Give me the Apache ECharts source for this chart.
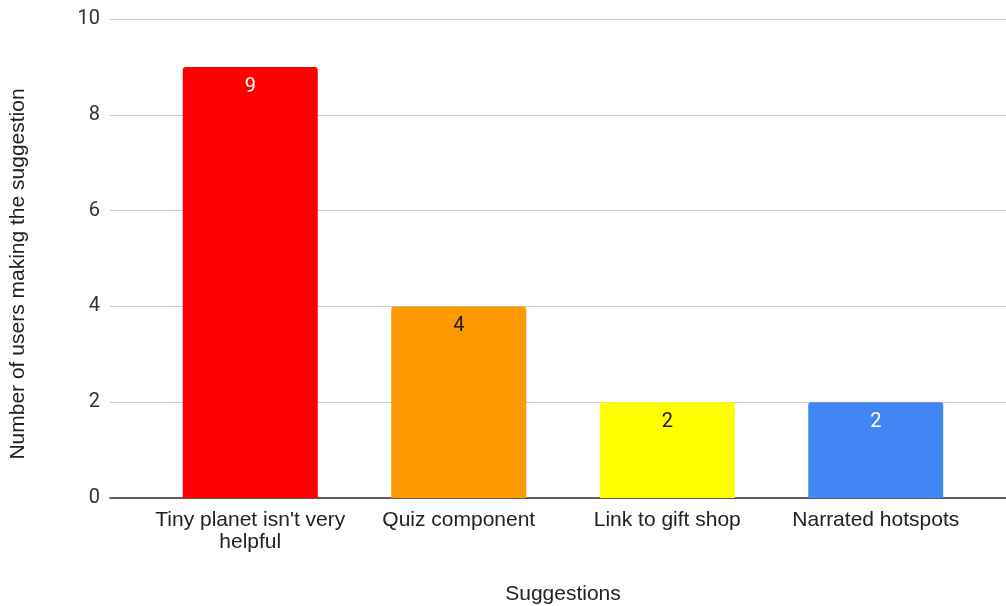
<!DOCTYPE html>
<html>
<head>
<meta charset="utf-8">
<script src="https://cdn.jsdelivr.net/npm/echarts@6/dist/echarts.min.js"></script>
<style>
  html, body { margin: 0; padding: 0; background: #fff; }
  #chart { width: 1006px; height: 606px; }
</style>
</head>
<body>
<div id="chart"></div>
<script>
// Suggestions collected from users and how many users made each one
const categories = ["Tiny planet isn't very\nhelpful", "Quiz component", "Link to gift shop", "Narrated hotspots"];
const userCounts = [9, 4, 2, 2];
const barColors = ["#ff0000", "#ff9900", "#ffff00", "#4285f4"];
const labelColors = ["#ffffff", "#1a1a1a", "#1a1a1a", "#ffffff"];
const yTicks = [0, 2, 4, 6, 8, 10];

const yMin = yTicks[0];
const yMax = yTicks[yTicks.length - 1];
const yStep = yTicks[1] - yTicks[0];

const chart = echarts.init(document.getElementById('chart'), null, { renderer: 'canvas' });

chart.setOption({
  animation: false,
  backgroundColor: '#ffffff',
  grid: [
    // full-width grid carrying the gridlines, baseline and tick labels
    { left: 110, right: 0, top: 19, bottom: 108, containLabel: false, outerBoundsMode: 'none' },
    // inset grid holding the bars
    { left: 146, right: 26, top: 19, bottom: 108, containLabel: false, outerBoundsMode: 'none' }
  ],
  xAxis: [
    {
      gridIndex: 0, type: 'category', data: [''],
      axisLine: { show: true, lineStyle: { color: '#333333', width: 1.5 } },
      axisTick: { show: false }, axisLabel: { show: false }
    },
    {
      gridIndex: 1, type: 'category', data: categories,
      axisLine: { show: false }, axisTick: { show: false },
      axisLabel: {
        interval: 0, margin: 11, color: '#222222',
        fontFamily: 'Liberation Sans, Arial, sans-serif', fontSize: 21, lineHeight: 22
      },
      name: 'Suggestions', nameLocation: 'middle', nameGap: 86,
      nameTextStyle: { color: '#222222', fontFamily: 'Liberation Sans, Arial, sans-serif', fontSize: 21 }
    }
  ],
  yAxis: [
    {
      gridIndex: 0, type: 'value', min: yMin, max: yMax, interval: yStep,
      axisLine: { show: false }, axisTick: { show: false },
      splitLine: { lineStyle: { color: '#cccccc', width: 1.2 } },
      axisLabel: { margin: 10, color: '#333333', fontFamily: 'Roboto, sans-serif', fontSize: 20 }
    },
    {
      gridIndex: 1, type: 'value', min: yMin, max: yMax, interval: yStep,
      axisLine: { show: false }, axisTick: { show: false },
      splitLine: { show: false }, axisLabel: { show: false }
    }
  ],
  graphic: [
    {
      type: 'text', x: 18, y: 274, rotation: Math.PI / 2,
      style: {
        text: 'Number of users making the suggestion',
        fill: '#222222', font: '21px "Liberation Sans", Arial, sans-serif',
        textAlign: 'center', textVerticalAlign: 'middle'
      }
    }
  ],
  series: [
    {
      type: 'bar', xAxisIndex: 1, yAxisIndex: 1,
      barWidth: 135,
      data: userCounts.map((v, i) => ({
        value: v,
        itemStyle: { color: barColors[i], borderRadius: [3, 3, 0, 0] },
        label: { color: labelColors[i] }
      })),
      label: {
        show: true, position: 'insideTop', distance: 10,
        fontFamily: 'Roboto, sans-serif', fontSize: 20
      }
    }
  ]
});
</script>
</body>
</html>
